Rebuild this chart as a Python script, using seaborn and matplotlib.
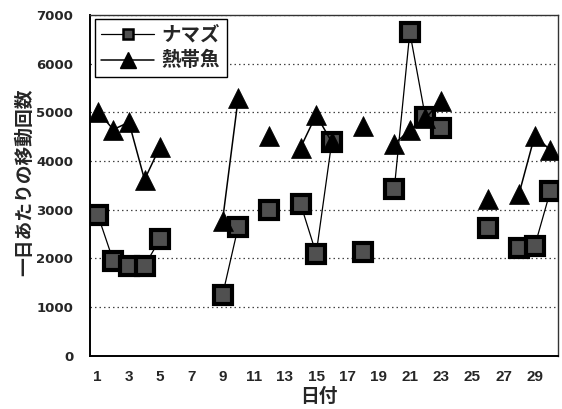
import numpy as np
import pandas as pd
import matplotlib
matplotlib.use("Agg")
import matplotlib.pyplot as plt
from matplotlib.lines import Line2D
from matplotlib.ticker import FixedLocator, MultipleLocator
import seaborn as sns

# Daily movement counts per day of the month (NaN = no record)
days = list(range(1, 31))
nan = np.nan
catfish = [2900, 1950, 1850, 1850, 2400, nan, nan, nan, 1250, 2650,
           nan, 3000, nan, 3120, 2100, 4400, nan, 2130, nan, 3420,
           6650, 4900, 4680, nan, nan, 2630, nan, 2220, 2250, 3380]
tropical = [5020, 4650, 4800, 3620, 4300, nan, nan, nan, 2780, 5290,
            nan, 4520, nan, 4280, 4950, 4390, nan, 4730, nan, 4350,
            4640, 4880, 5240, nan, nan, 3230, nan, 3330, 4520, 4230]
series_names = ["ナマズ", "熱帯魚"]
xtick_labels = [str(d) for d in range(1, 31, 2)]
ytick_values = list(range(0, 7001, 1000))

JP = ["Noto Sans CJK JP", "DejaVu Sans"]


def to_segments(values, name):
    """Long table with a segment id, so gaps between records break the line."""
    rows, seg = [], 0
    prev = False
    for d, v in zip(days, values):
        if np.isnan(v):
            prev = False
            continue
        if not prev:
            seg += 1
        rows.append({"day": d, "count": v, "seg": seg, "series": name})
        prev = True
    return pd.DataFrame(rows)


df_cat = to_segments(catfish, series_names[0])
df_tro = to_segments(tropical, series_names[1])

sns.set_style("white")
plt.rcParams["font.family"] = JP

fig = plt.figure(figsize=(5.62, 4.09), dpi=100)
ax = fig.add_axes([0.160, 0.130, 0.833, 0.833])

SQ_FACE = "#505050"
sns.lineplot(data=df_cat, x="day", y="count", units="seg", estimator=None,
             color="black", lw=0.9, marker="s", markersize=13,
             markerfacecolor=SQ_FACE, markeredgecolor="black",
             markeredgewidth=3.0, ax=ax, legend=False, zorder=3)
sns.lineplot(data=df_tro, x="day", y="count", units="seg", estimator=None,
             color="black", lw=1.1, marker="^", markersize=15,
             markerfacecolor="black", markeredgecolor="black",
             markeredgewidth=0.5, ax=ax, legend=False, zorder=4)

ax.set_xlim(0.5, 30.5)
ax.set_ylim(0, 7000)

# x: labels on odd days, tick marks between days
ax.xaxis.set_major_locator(FixedLocator(list(range(1, 31, 2))))
ax.set_xticklabels(xtick_labels)
ax.xaxis.set_minor_locator(FixedLocator([d + 0.5 for d in range(1, 30)]))
ax.tick_params(axis="x", which="major", length=0, pad=10)
ax.tick_params(axis="x", which="minor", direction="in", length=4,
               width=1, color="black")
for lab in ax.get_xticklabels():
    lab.set_family(["Liberation Sans Narrow", "Liberation Sans"])
    lab.set_fontweight("bold")
    lab.set_fontsize(11)

# y: labels every 1000, minor marks at 500
ax.set_yticks(ytick_values)
ax.yaxis.set_minor_locator(MultipleLocator(500))
ax.tick_params(axis="y", which="major", direction="in", length=4,
               width=1, pad=12)
ax.tick_params(axis="y", which="minor", direction="in", length=3, width=1)
for lab in ax.get_yticklabels():
    lab.set_family(["DejaVu Sans"])
    lab.set_fontweight("bold")
    lab.set_fontsize(9.5)

ax.yaxis.grid(True, which="major", linestyle=(0, (1.2, 2.4)),
              color="#444444", lw=0.9)
ax.xaxis.grid(False)

for side in ["left", "bottom"]:
    ax.spines[side].set_color("black")
    ax.spines[side].set_linewidth(1.4)
for side in ["top", "right"]:
    ax.spines[side].set_visible(True)
    ax.spines[side].set_color("#333333")
    ax.spines[side].set_linewidth(1.0)

ax.set_xlabel("日付", fontsize=13.5, fontweight="bold")
ax.set_ylabel("一日あたりの移動回数", fontsize=13.5, fontweight="bold")
ax.xaxis.set_label_coords(0.49, -0.092)
ax.yaxis.set_label_coords(-0.12, 0.51)

handles = [
    Line2D([], [], color="black", lw=0.9, marker="s", markersize=7,
           markerfacecolor=SQ_FACE, markeredgecolor="black",
           markeredgewidth=1.8),
    Line2D([], [], color="black", lw=1.1, marker="^", markersize=12,
           markerfacecolor="black", markeredgecolor="black"),
]
leg = ax.legend(handles, series_names, loc="upper left",
                bbox_to_anchor=(0.01, 0.99), borderaxespad=0,
                frameon=True, fancybox=False,
                edgecolor="black", framealpha=1, borderpad=0.35,
                handlelength=2.7, handletextpad=0.4, labelspacing=0.35,
                prop={"family": JP, "size": 14, "weight": "bold"})
leg.get_frame().set_linewidth(1.0)

fig.savefig("out.png", dpi=100)
